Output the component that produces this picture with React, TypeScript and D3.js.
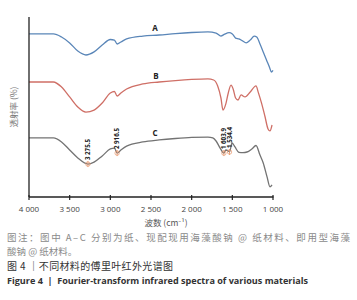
import React from "react";
import * as d3 from "d3";

// wavenumber grid (cm^-1)
const wnA = [4000,3700,3600,3500,3400,3300,3200,3100,3000,2950,2916,2870,2800,2600,2400,2200,2000,1800,1700,1640,1600,1540,1500,1460,1420,1380,1330,1280,1230,1200,1160,1120,1080,1040,1020,1000];
const valA = [90.6,90.6,88.9,85.6,81.1,78.9,80.6,84.4,87.5,87.2,85.0,86.1,87.8,89.4,90.0,90.8,91.4,91.7,91.1,89.4,90.3,91.3,90.6,88.3,87.8,86.9,85.6,87.2,89.4,88.9,85.0,80.6,76.1,71.7,69.4,70.3];

const wnB = [4000,3700,3600,3500,3400,3300,3200,3100,3000,2950,2916,2870,2800,2600,2400,2200,2000,1800,1730,1680,1640,1615,1580,1550,1516,1490,1460,1430,1393,1344,1280,1209,1180,1140,1100,1061,1037,1012];
const valB = [63.9,63.9,61.1,55.6,50.0,47.2,48.3,52.2,57.8,58.6,56.1,57.8,60.0,62.8,63.9,64.7,65.3,65.6,65.0,61.7,55.0,48.3,51.7,57.8,62.2,60.0,55.0,53.9,56.7,55.6,58.3,61.7,58.0,52.0,45.0,37.8,36.7,40.0];

const wnC = [4000,3700,3600,3500,3400,3275,3200,3100,3000,2950,2916,2870,2800,2600,2400,2200,2000,1800,1740,1700,1650,1604,1580,1550,1534,1504,1490,1467,1418,1370,1320,1260,1209,1160,1120,1074,1037,1012];
const valC = [32.8,32.8,30.6,26.1,21.7,18.3,19.4,22.8,26.7,27.2,24.4,26.1,28.3,30.6,31.7,32.5,33.1,33.3,32.8,31.1,27.2,24.4,26.1,25.6,25.0,30.0,29.4,27.8,24.8,24.7,25.0,26.7,28.6,23.3,18.9,11.3,5.6,6.7];

const seriesNames = ["A", "B", "C"];
const seriesLabelWn = [2450, 2440, 2450];
const seriesLabelVal = [92.5, 65.8, 33.8];

const peakWn = [3275.5, 2916.5, 1603.9, 1534.4];
const peakLabels = ["3 275.5", "2 916.5", "1 603.9", "1 534.4"];
const peakVal = [18.3, 24.4, 24.4, 25.0];

const xTicks = [4000, 3500, 3000, 2500, 2000, 1500, 1000];
const xTickLabels = ["4 000", "3 500", "3 000", "2 500", "2 000", "1 500", "1 000"];

const yLabel = "透射率 (%)";
const xLabel = "波数 (cm⁻¹)";
const note1 = "图注：图中 A–C 分别为纸、现配现用海藻酸钠 @ 纸材料、即用型海藻";
const note2 = "酸钠 @ 纸材料。";
const caption1 = "图 4 ｜不同材料的傅里叶红外光谱图";
const caption2 = "Figure 4  |  Fourier-transform infrared spectra of various materials";

export default function App() {
  const W = 357, H = 300;
  const x = d3.scaleLinear().domain([4000, 1000]).range([29, 273]);
  const y = d3.scaleLinear().domain([0, 100]).range([197, 17]);
  const line = d3.line<[number, number]>().x(d => x(d[0])).y(d => y(d[1])).curve(d3.curveMonotoneX);
  const toPts = (w: number[], v: number[]) => w.map((k, i) => [-k, v[i]] as [number, number]);
  const lineW = d3.line<[number, number]>().x(d => x(-d[0])).y(d => y(d[1])).curve(d3.curveMonotoneX);
  const colors = ["#5a86b8", "#cf6f66", "#737373"];
  const data = [toPts(wnA, valA), toPts(wnB, valB), toPts(wnC, valC)];
  const cjk = "'Noto Sans CJK SC', 'Noto Sans', sans-serif";
  return (
    <svg width={W} height={H} style={{ position: "absolute", left: 0, top: 0, background: "#fff" }}>
      <rect width={W} height={H} fill="#fff" />
      {data.map((d, i) => (
        <path key={i} d={lineW(d) || ""} fill="none" stroke={colors[i]} strokeWidth={1.3} strokeLinejoin="round" />
      ))}
      {seriesNames.map((n, i) => (
        <text key={n} x={x(seriesLabelWn[i])} y={y(seriesLabelVal[i])} fontFamily="'Open Sans', sans-serif" fontWeight="bold" fontSize={8} fill="#222" textAnchor="middle">{n}</text>
      ))}
      {peakWn.map((p, i) => {
        const px = x(p), py = y(peakVal[i]);
        return (
          <g key={i}>
            <line x1={px} x2={px} y1={py - 3} y2={py + 3} stroke="#e8956a" strokeWidth={0.8} />
            <circle cx={px} cy={py} r={2.2} fill="none" stroke="#e8956a" strokeWidth={0.7} />
            <text transform={`translate(${px + 2.2},${py - 4}) rotate(-90)`} fontFamily="'Open Sans', sans-serif" fontWeight="bold" fontSize={6.2} fill="#222">{peakLabels[i]}</text>
          </g>
        );
      })}
      <line x1={29} x2={29} y1={17} y2={197} stroke="#222" strokeWidth={1.3} />
      <line x1={29} x2={273.5} y1={197} y2={197} stroke="#222" strokeWidth={1.3} />
      {xTicks.map((t, i) => (
        <g key={t}>
          <line x1={x(t)} x2={x(t)} y1={195} y2={200} stroke="#222" strokeWidth={1.2} />
          <text x={x(t)} y={212} textAnchor="middle" fontFamily="'Open Sans', sans-serif" fontSize={8} fill="#444">{xTickLabels[i]}</text>
        </g>
      ))}
      <text transform="translate(17,107) rotate(-90)" textAnchor="middle" fontFamily={cjk} fontSize={8.5} fill="#777">{yLabel}</text>
      <text x={166} y={226} textAnchor="middle" fontFamily={cjk} fontSize={8.5} fill="#555">{xLabel}</text>
      <text x={7} y={241} fontFamily={cjk} fontSize={9.5} fill="#8a8a8a" textLength={343} lengthAdjust="spacing">{note1}</text>
      <text x={7} y={255} fontFamily={cjk} fontSize={9.5} fill="#8a8a8a">{note2}</text>
      <text x={7} y={270} fontFamily={cjk} fontSize={10} fill="#333" textLength={166} lengthAdjust="spacing">{caption1}</text>
      <text x={7} y={284} fontFamily="'Open Sans', sans-serif" fontWeight="bold" fontSize={8.3} fill="#333" textLength={301} lengthAdjust="spacingAndGlyphs" style={{ whiteSpace: "pre" }}>{caption2}</text>
    </svg>
  );
}
